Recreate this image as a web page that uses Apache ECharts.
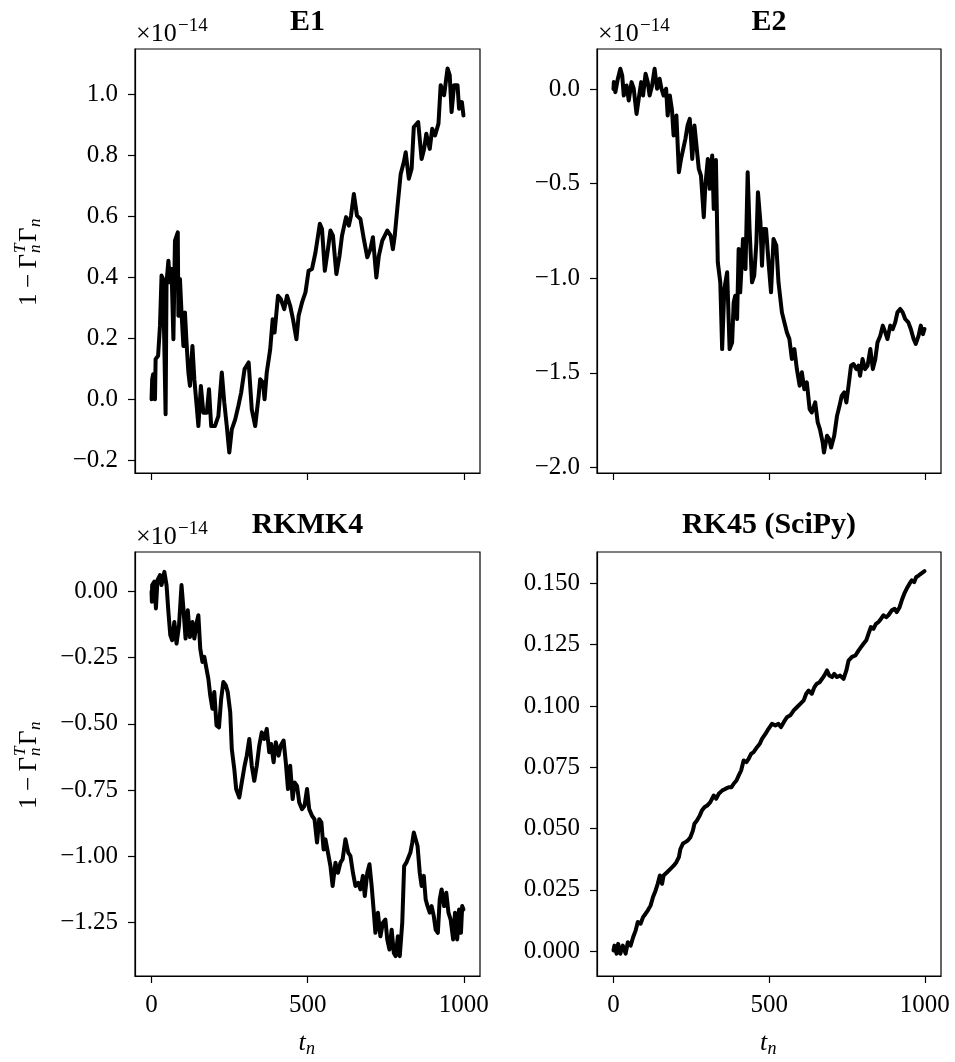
<!DOCTYPE html>
<html>
<head>
<meta charset="utf-8">
<script src="https://cdn.jsdelivr.net/npm/echarts@6/dist/echarts.min.js"></script>
<style>
html,body{margin:0;padding:0;background:#fff;}
#chart{width:955px;height:1062px;}
</style>
</head>
<body>
<div id="chart"></div>
<script>
// ---------------- data ----------------
const titles = ['E1', 'E2', 'RKMK4', 'RK45 (SciPy)'];
const xTicks = [0, 500, 1000];

const tE1 = [0,2,5,11,13,21,27,32,37,45,48,54,59,64,70,75,84,86,91,96,102,107,112,118,123,131,137,145,150,158,166,177,184,191,203,214,225,233,241,249,257,268,278,287,298,311,321,332,343,348,357,362,369,380,388,394,405,414,425,434,444,453,464,471,482,493,503,514,525,539,546,555,565,573,581,592,602,610,623,632,639,648,658,669,680,691,701,709,720,728,739,755,766,773,779,787,798,808,814,824,833,840,854,865,873,880,891,899,908,919,926,937,948,955,961,969,980,985,994,999];
const vE1 = [0.000,0.066,0.082,0.000,0.132,0.143,0.241,0.406,0.395,-0.049,0.384,0.455,0.384,0.428,0.197,0.521,0.548,0.274,0.395,0.285,0.175,0.285,0.186,0.088,0.044,0.175,0.066,-0.027,-0.088,0.044,-0.044,-0.044,0.033,-0.088,-0.088,-0.055,0.088,-0.011,-0.088,-0.175,-0.099,-0.066,-0.022,0.022,0.099,0.121,-0.033,-0.088,0.011,0.066,0.055,0.000,0.088,0.164,0.263,0.219,0.340,0.329,0.296,0.340,0.307,0.263,0.197,0.274,0.318,0.351,0.422,0.428,0.482,0.576,0.559,0.422,0.493,0.554,0.537,0.411,0.471,0.537,0.598,0.570,0.603,0.674,0.603,0.592,0.526,0.466,0.493,0.532,0.400,0.471,0.521,0.554,0.537,0.493,0.537,0.625,0.740,0.779,0.811,0.724,0.757,0.894,0.910,0.789,0.822,0.872,0.822,0.888,0.866,0.905,1.031,0.998,1.086,1.064,0.943,1.031,1.031,0.954,0.976,0.932];

const tE2 = [0,1,6,14,22,28,33,42,49,58,65,74,81,89,95,103,110,116,124,132,140,148,154,161,169,174,181,188,193,202,210,217,224,231,238,245,253,260,266,274,281,290,295,303,309,317,322,329,335,343,349,356,365,373,381,386,391,397,402,407,416,424,431,437,445,452,459,464,472,477,482,490,498,506,514,523,530,541,549,557,565,573,581,589,598,605,613,621,630,637,648,656,663,672,676,686,693,699,709,718,726,733,741,748,755,763,771,780,787,792,800,808,816,825,833,841,848,857,865,873,880,889,897,905,912,921,929,937,947,955,964,971,980,987,994,999];
const vE2 = [0.000,0.037,-0.016,0.055,0.108,0.072,-0.034,0.019,-0.060,0.037,0.002,-0.131,-0.051,0.037,-0.034,0.081,0.037,-0.034,0.019,0.108,0.002,0.055,0.002,-0.034,0.002,-0.139,-0.034,-0.113,-0.245,-0.139,-0.439,-0.369,-0.316,-0.263,-0.192,-0.157,-0.369,-0.192,-0.183,-0.422,-0.457,-0.677,-0.510,-0.369,-0.527,-0.351,-0.633,-0.375,-0.915,-1.021,-1.374,-1.056,-0.968,-1.374,-1.339,-1.129,-1.092,-1.215,-0.845,-1.074,-0.792,-0.951,-0.439,-0.739,-1.021,-0.986,-0.810,-0.545,-0.704,-0.933,-0.739,-0.739,-0.915,-1.074,-0.792,-0.827,-1.021,-1.180,-1.233,-1.286,-1.321,-1.427,-1.374,-1.480,-1.568,-1.497,-1.586,-1.550,-1.691,-1.709,-1.656,-1.762,-1.797,-1.868,-1.921,-1.832,-1.850,-1.894,-1.832,-1.727,-1.674,-1.621,-1.603,-1.656,-1.568,-1.462,-1.453,-1.480,-1.462,-1.515,-1.427,-1.480,-1.462,-1.374,-1.480,-1.427,-1.339,-1.303,-1.250,-1.286,-1.321,-1.250,-1.268,-1.233,-1.180,-1.162,-1.180,-1.215,-1.233,-1.268,-1.321,-1.347,-1.303,-1.250,-1.295,-1.268];

const tRK = [0,1,2,9,14,19,27,32,41,48,54,60,66,73,80,88,96,102,109,116,123,131,137,145,150,156,163,169,176,182,188,195,201,208,216,223,230,238,244,252,257,265,271,281,289,298,305,313,321,329,337,345,353,361,369,377,383,391,398,407,414,423,430,437,444,452,458,466,473,482,490,498,505,514,522,530,537,544,551,557,565,573,580,589,597,605,612,621,630,637,645,653,662,669,677,683,691,698,705,712,717,725,733,741,749,755,762,769,776,782,789,795,803,809,816,822,829,835,840,846,852,859,865,872,878,884,891,897,904,910,917,923,929,937,944,951,958,966,972,979,985,991,995,999];
const vRK = [0.000,-0.039,0.024,0.037,-0.064,0.043,0.062,0.024,0.074,0.024,-0.077,-0.165,-0.184,-0.115,-0.197,-0.128,0.024,-0.064,-0.178,-0.071,-0.172,-0.115,-0.178,-0.115,-0.090,-0.216,-0.266,-0.247,-0.292,-0.330,-0.393,-0.443,-0.380,-0.506,-0.513,-0.405,-0.342,-0.355,-0.380,-0.456,-0.595,-0.670,-0.746,-0.778,-0.721,-0.658,-0.620,-0.557,-0.658,-0.715,-0.658,-0.582,-0.532,-0.557,-0.519,-0.607,-0.576,-0.645,-0.569,-0.620,-0.582,-0.563,-0.645,-0.746,-0.658,-0.784,-0.721,-0.734,-0.797,-0.822,-0.809,-0.746,-0.822,-0.847,-0.860,-0.948,-0.860,-0.872,-0.974,-0.936,-0.986,-1.037,-1.112,-1.024,-1.062,-1.024,-1.011,-0.936,-0.986,-0.999,-1.062,-1.112,-1.100,-1.125,-1.074,-1.150,-1.062,-1.030,-1.112,-1.213,-1.289,-1.213,-1.302,-1.251,-1.239,-1.314,-1.352,-1.277,-1.365,-1.377,-1.302,-1.377,-1.251,-1.037,-1.024,-1.024,-0.986,-0.948,-0.910,-0.916,-0.961,-1.062,-1.112,-1.074,-1.163,-1.188,-1.213,-1.188,-1.226,-1.277,-1.289,-1.163,-1.125,-1.188,-1.138,-1.213,-1.239,-1.314,-1.213,-1.314,-1.201,-1.289,-1.188,-1.201];

const t45 = [0,3,10,15,22,30,39,46,55,63,71,78,87,95,103,110,119,127,135,142,149,156,161,172,183,194,202,210,215,223,231,239,247,255,260,268,277,284,292,301,311,322,330,338,349,359,370,379,386,395,402,410,418,427,434,442,450,456,461,470,477,488,498,509,520,530,538,547,557,568,579,589,600,611,619,627,637,645,653,662,670,677,686,693,702,709,718,728,739,748,755,766,777,787,795,803,812,819,827,835,843,851,859,867,876,883,894,903,910,919,926,934,942,951,958,966,972,980,987,993,999];
const v45 = [0.0003,0.0023,-0.0010,0.0030,-0.0010,0.0023,-0.0010,0.0037,0.0023,0.0057,0.0084,0.0119,0.0112,0.0139,0.0153,0.0166,0.0186,0.0221,0.0247,0.0275,0.0309,0.0275,0.0309,0.0322,0.0336,0.0350,0.0363,0.0384,0.0417,0.0439,0.0445,0.0452,0.0465,0.0492,0.0520,0.0533,0.0553,0.0574,0.0587,0.0594,0.0608,0.0635,0.0622,0.0642,0.0655,0.0662,0.0669,0.0669,0.0683,0.0696,0.0716,0.0737,0.0778,0.0771,0.0784,0.0805,0.0812,0.0805,0.0832,0.0846,0.0866,0.0886,0.0907,0.0927,0.0921,0.0927,0.0914,0.0934,0.0954,0.0962,0.0982,0.0995,0.1009,0.1023,0.1050,0.1063,0.1050,0.1076,0.1091,0.1097,0.1111,0.1124,0.1145,0.1124,0.1118,0.1131,0.1118,0.1124,0.1111,0.1145,0.1185,0.1200,0.1206,0.1226,0.1240,0.1254,0.1268,0.1294,0.1322,0.1315,0.1335,0.1342,0.1355,0.1370,0.1362,0.1370,0.1390,0.1396,0.1383,0.1403,0.1431,0.1458,0.1479,0.1499,0.1512,0.1505,0.1525,0.1532,0.1539,0.1546,0.1550];

const yTicksE1 = [-0.2, 0.0, 0.2, 0.4, 0.6, 0.8, 1.0];
const yTicksE2 = [-2.0, -1.5, -1.0, -0.5, 0.0];
const yTicksRK = [-1.25, -1.00, -0.75, -0.50, -0.25, 0.00];
const yTicks45 = [0.000, 0.025, 0.050, 0.075, 0.100, 0.125, 0.150];

// ---------------- layout ----------------
const FONT = 'Liberation Serif';
const panels = [
  {grid:{left:135, top:49, width:345, height:424}, t:tE1, v:vE1, ticks:yTicksE1, dec:1, ymin:-0.242, ymax:1.150, xlab:false, offset:true},
  {grid:{left:597, top:49, width:344, height:424}, t:tE2, v:vE2, ticks:yTicksE2, dec:1, ymin:-2.029, ymax:0.212, xlab:false, offset:true},
  {grid:{left:135, top:552, width:345, height:424}, t:tRK, v:vRK, ticks:yTicksRK, dec:2, ymin:-1.452, ymax:0.149, xlab:true, offset:true},
  {grid:{left:597, top:552, width:344, height:424}, t:t45, v:v45, ticks:yTicks45, dec:3, ymin:-0.0101, ymax:0.1628, xlab:true, offset:false}
];

const fmt = (d) => (val) => {
  let s = Math.abs(val) < 1e-12 ? (0).toFixed(d) : val.toFixed(d);
  return s.replace('-', '\u2212');
};

const grids = [], xAxes = [], yAxes = [], series = [], graphics = [];
panels.forEach((p, i) => {
  grids.push(Object.assign({show:true, borderColor:'#000', borderWidth:1.2, backgroundColor:'#fff', containLabel:false}, p.grid));
  xAxes.push({
    type:'value', gridIndex:i, min:-53, max:1052,
    axisLine:{show:true, onZero:false, lineStyle:{color:'#000', width:1.2}},
    axisTick:{show:true, inside:false, length:7, lineStyle:{color:'#000', width:1.2}, customValues:xTicks},
    axisLabel:{show:p.xlab, customValues:xTicks, margin:17, color:'#000', fontFamily:FONT, fontSize:25, formatter:(v)=>String(Math.round(v))},
    splitLine:{show:false}
  });
  yAxes.push({
    type:'value', gridIndex:i, min:p.ymin, max:p.ymax,
    axisLine:{show:true, onZero:false, lineStyle:{color:'#000', width:1.2}},
    axisTick:{show:true, inside:false, length:7, lineStyle:{color:'#000', width:1.2}, customValues:p.ticks},
    axisLabel:{show:true, customValues:p.ticks, margin:17, color:'#000', fontFamily:FONT, fontSize:25, formatter:fmt(p.dec)},
    splitLine:{show:false}
  });
  series.push({
    type:'line', xAxisIndex:i, yAxisIndex:i, showSymbol:false, animation:false,
    data:p.t.map((t, k) => [t, p.v[k]]),
    lineStyle:{color:'#000', width:4, cap:'round', join:'round'},
    clip:true
  });
  const g = p.grid;
  const cx = g.left + g.width / 2;
  // title
  graphics.push({type:'text', x:cx, y:g.top - 26.5, style:{text:titles[i], fill:'#000', font:'bold 30px "Liberation Serif"', align:'center', verticalAlign:'middle'}});
  // offset text
  if (p.offset) {
    graphics.push({type:'text', x:g.left + 1, y:g.top - 15, style:{text:'\u00d710', fill:'#000', font:'26px "Liberation Serif"', align:'left', verticalAlign:'middle'}});
    graphics.push({type:'text', x:g.left + 43, y:g.top - 23, style:{text:'\u221214', fill:'#000', font:'19px "Liberation Serif"', align:'left', verticalAlign:'middle'}});
  }
  // x label
  if (p.xlab) {
    graphics.push({type:'text', x:cx - 9, y:1043, style:{text:'t', fill:'#000', font:'italic 26px "Liberation Serif"', align:'left', verticalAlign:'middle'}});
    graphics.push({type:'text', x:cx - 1.5, y:1049, style:{text:'n', fill:'#000', font:'italic 18px "Liberation Serif"', align:'left', verticalAlign:'middle'}});
  }
  // y label (left column)
  if (g.left < 300) {
    const cy = g.top + g.height / 2;
    graphics.push({
      type:'group', x:29, y:cy, rotation:Math.PI/2,
      children:[
        {type:'text', x:-45, y:0, style:{text:'1', fill:'#000', font:'25px "Liberation Serif"', align:'left', verticalAlign:'middle'}},
        {type:'text', x:-27, y:0, style:{text:'\u2212', fill:'#000', font:'25px "Liberation Serif"', align:'left', verticalAlign:'middle'}},
        {type:'text', x:-7.5, y:0, style:{text:'\u0393', fill:'#000', font:'25px "Liberation Serif"', align:'left', verticalAlign:'middle'}},
        {type:'text', x:8, y:-8, style:{text:'T', fill:'#000', font:'italic 17px "Liberation Serif"', align:'left', verticalAlign:'middle'}},
        {type:'text', x:8, y:7, style:{text:'n', fill:'#000', font:'italic 17px "Liberation Serif"', align:'left', verticalAlign:'middle'}},
        {type:'text', x:19, y:0, style:{text:'\u0393', fill:'#000', font:'25px "Liberation Serif"', align:'left', verticalAlign:'middle'}},
        {type:'text', x:34, y:7, style:{text:'n', fill:'#000', font:'italic 17px "Liberation Serif"', align:'left', verticalAlign:'middle'}}
      ]
    });
  }
});

const chart = echarts.init(document.getElementById('chart'), null, {renderer:'canvas'});
chart.setOption({
  backgroundColor:'#fff',
  animation:false,
  grid:grids, xAxis:xAxes, yAxis:yAxes, series:series,
  graphic:graphics
});
</script>
</body>
</html>
